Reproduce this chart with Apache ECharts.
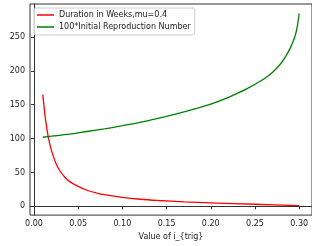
<!DOCTYPE html>
<html>
<head>
<meta charset="utf-8">
<title>Duration and R0</title>
<script src="https://cdn.jsdelivr.net/npm/echarts@6/dist/echarts.min.js"></script>
<style>
html, body { margin: 0; padding: 0; background: #fff; }
#chart { width: 312px; height: 246px; }
</style>
</head>
<body>
<div id="chart"></div>
<script>
// values
var redX = [0.01, 0.0125, 0.015, 0.0175, 0.02, 0.025, 0.03, 0.035, 0.04, 0.05, 0.06, 0.07, 0.08, 0.10, 0.12, 0.14, 0.17, 0.20, 0.25, 0.30];
var durationWeeks = [165, 134, 111, 94, 81.5, 63, 51, 43, 36.8, 29.5, 23.7, 20, 17.1, 13.1, 10.4, 8.6, 6.6, 5.1, 3.0, 1.0];

var greenX = [0.01, 0.02, 0.04, 0.06, 0.08, 0.10, 0.12, 0.14, 0.16, 0.18, 0.20, 0.22, 0.24, 0.26, 0.27, 0.28, 0.285, 0.29, 0.295, 0.2975, 0.30];
var r0x100 = [102, 103.5, 106.5, 110.5, 114.5, 119, 124, 130, 136, 143, 151, 161, 173, 188, 198, 212, 222, 234, 250, 263, 285];

var xTicks = [0, 0.05, 0.10, 0.15, 0.20, 0.25, 0.30];
var yTicks = [0, 50, 100, 150, 200, 250];

var legendNames = ['Duration in Weeks,mu=0.4', '100*Initial Reproduction Number'];

function pairs(xs, ys) {
    var out = [];
    for (var i = 0; i < xs.length; i++) {
        out.push([xs[i], ys[i]]);
    }
    return out;
}

var font = 'DejaVu Sans';
var ink = '#333';
var fs = 8;

var option = {
    animation: false,
    grid: {
        left: 30, top: 4, width: 287, height: 214,
        show: true, borderColor: ink, borderWidth: 1, backgroundColor: 'transparent'
    },
    legend: {
        orient: 'vertical',
        left: 34, top: 8,
        padding: [2, 4, 3, 3],
        itemGap: 2,
        itemWidth: 17,
        itemHeight: 1.5,
        icon: 'rect',
        borderColor: '#ccc', borderWidth: 1, borderRadius: 2,
        backgroundColor: 'rgba(255,255,255,0.8)',
        textStyle: { fontFamily: font, fontSize: fs, color: '#222', lineHeight: 10 },
        data: legendNames
    },
    xAxis: {
        type: 'value',
        min: -0.0045, max: 0.3145,
        name: 'Value of i_{trig}',
        nameLocation: 'middle',
        nameGap: 15,
        nameTextStyle: { fontFamily: font, fontSize: fs, color: '#222' },
        axisLine: { show: true, lineStyle: { color: ink, width: 1 } },
        axisTick: { show: true, length: 3, lineStyle: { color: ink }, customValues: xTicks },
        axisLabel: {
            fontFamily: font, fontSize: fs, color: '#222', margin: 5,
            customValues: xTicks,
            formatter: function (v) { return v.toFixed(2); }
        },
        splitLine: { show: false }
    },
    yAxis: {
        type: 'value',
        min: -13, max: 298.8,
        axisLine: { show: true, lineStyle: { color: ink, width: 1 } },
        axisTick: { show: true, length: 3, lineStyle: { color: ink }, customValues: yTicks },
        axisLabel: {
            fontFamily: font, fontSize: fs, color: '#222', margin: 5,
            customValues: yTicks
        },
        splitLine: { show: false }
    },
    series: [
        {
            name: legendNames[0],
            type: 'line',
            data: pairs(redX, durationWeeks),
            showSymbol: false,
            smooth: 0.3,
            itemStyle: { color: '#ff0000' },
            lineStyle: { color: '#ff0000', width: 1.3 }
        },
        {
            name: legendNames[1],
            type: 'line',
            data: pairs(greenX, r0x100),
            showSymbol: false,
            smooth: 0.3,
            itemStyle: { color: '#008000' },
            lineStyle: { color: '#008000', width: 1.3 }
        }
    ]
};

var myChart = echarts.init(document.getElementById('chart'));
myChart.setOption(option);
</script>
</body>
</html>
